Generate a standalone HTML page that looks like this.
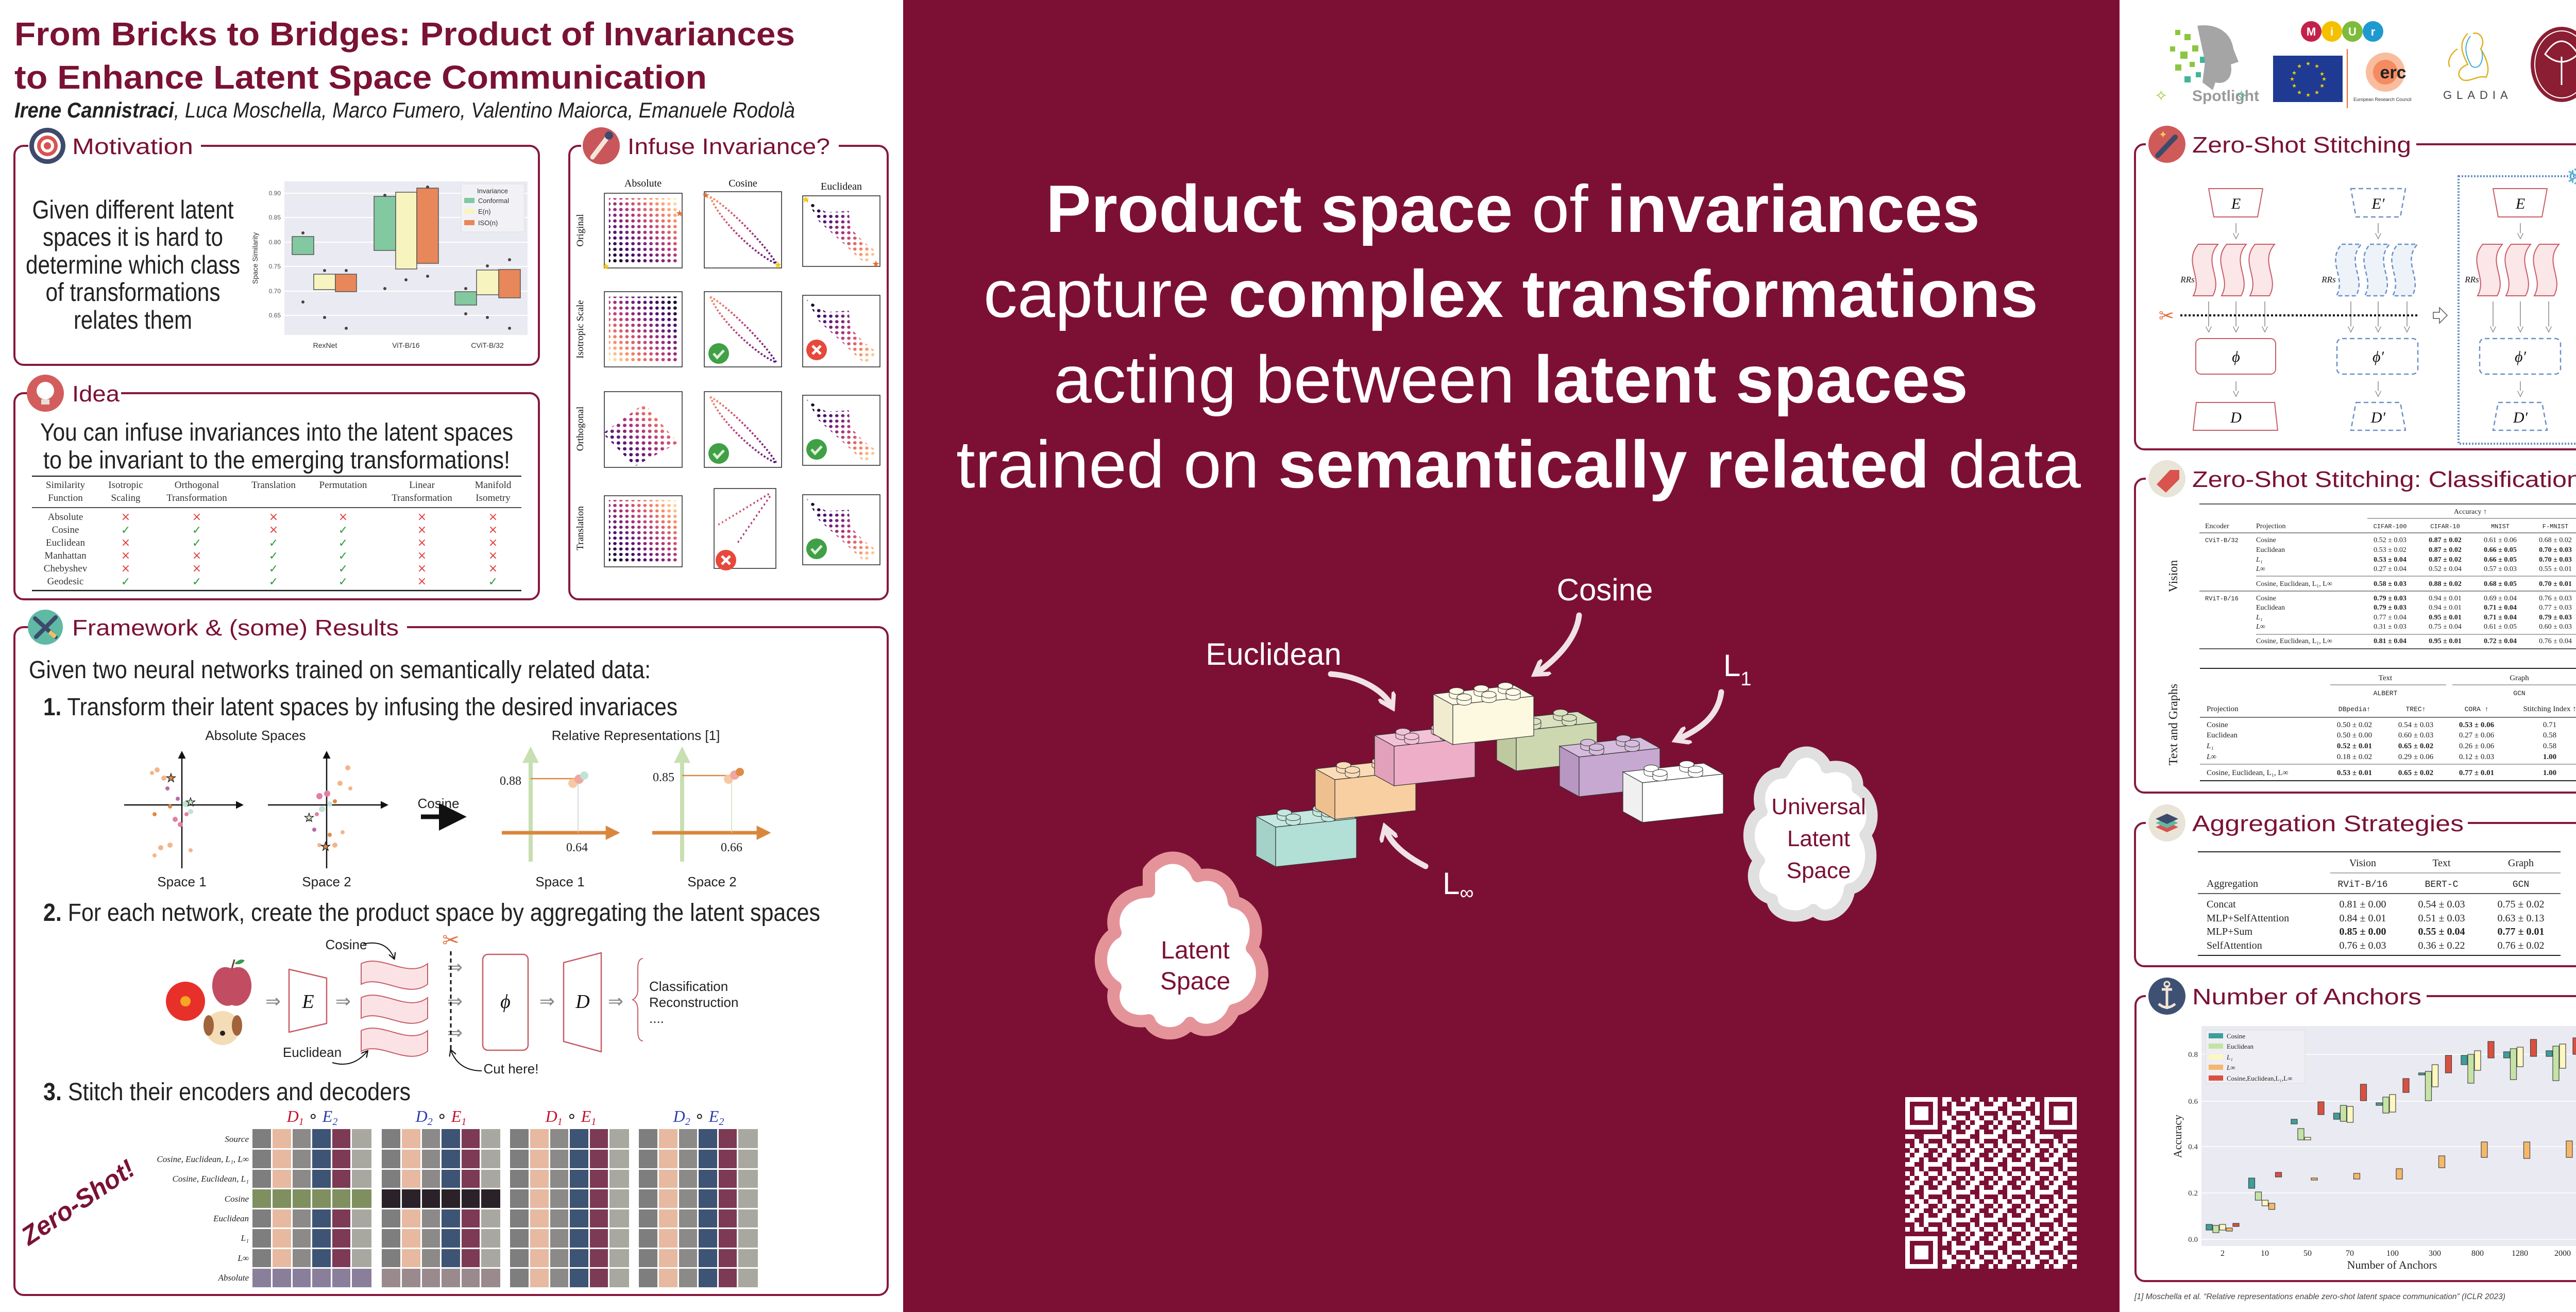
<!DOCTYPE html>
<html><head><meta charset="utf-8"><style>
html,body{margin:0;padding:0;background:#fff;}
body{width:5120px;height:2546px;overflow:hidden;}
svg{display:block;}
.s{font-family:"Liberation Serif",serif;}
.m{font-family:"Liberation Mono",monospace;}
</style></head><body>
<svg width="5120" height="2546" viewBox="0 0 5120 2546" xmlns="http://www.w3.org/2000/svg" font-family="Liberation Sans, sans-serif">
<defs>
<linearGradient id="mg" x1="0" y1="1" x2="1" y2="0"><stop offset="0" stop-color="#000004"/><stop offset=".28" stop-color="#51127c"/><stop offset=".55" stop-color="#b73779"/><stop offset=".8" stop-color="#fc8961"/><stop offset="1" stop-color="#fcfdbf"/></linearGradient>
<linearGradient id="mgR" x1="1" y1="0" x2="0" y2="1"><stop offset="0" stop-color="#000004"/><stop offset=".28" stop-color="#51127c"/><stop offset=".55" stop-color="#b73779"/><stop offset=".8" stop-color="#fc8961"/><stop offset="1" stop-color="#fcfdbf"/></linearGradient>
<linearGradient id="mgE" x1="0" y1="0" x2="1" y2="1"><stop offset="0" stop-color="#000004"/><stop offset=".3" stop-color="#51127c"/><stop offset=".55" stop-color="#b73779"/><stop offset=".8" stop-color="#fc8961"/><stop offset="1" stop-color="#fcfdbf"/></linearGradient>
<linearGradient id="mgC" x1="1" y1="1" x2="0" y2="0"><stop offset="0" stop-color="#51127c"/><stop offset=".5" stop-color="#b73779"/><stop offset="1" stop-color="#fc8961"/></linearGradient>
<pattern id="dots" width="8" height="8" patternUnits="userSpaceOnUse"><circle cx="4" cy="4" r="2.3" fill="#fff"/></pattern>
<mask id="dm" maskUnits="userSpaceOnUse" x="0" y="0" width="100" height="100"><rect width="100" height="100" fill="url(#dots)"/></mask>
<symbol id="absO" viewBox="0 0 100 100" preserveAspectRatio="none"><rect x="4" y="4" width="92" height="92" fill="url(#mg)" mask="url(#dm)"/></symbol>
<symbol id="absI" viewBox="0 0 100 100" preserveAspectRatio="none"><rect x="4" y="4" width="92" height="92" fill="url(#mgR)" mask="url(#dm)"/></symbol>
<symbol id="ortA" viewBox="0 0 100 100" preserveAspectRatio="none"><polygon points="53,14 96,68 41,100 0,55" fill="url(#mg)" mask="url(#dm)"/></symbol>
<symbol id="cosP" viewBox="0 0 100 100" preserveAspectRatio="none"><path d="M6,5 C30,18 80,70 95,96 C70,86 20,40 6,5" fill="none" stroke="url(#mgC)" stroke-width="2.6" stroke-dasharray="2.5 2.5"/></symbol>
<symbol id="eucP" viewBox="0 0 100 100" preserveAspectRatio="none"><polygon points="4,4 30,22 60,20 62,45 80,66 97,80 88,92 80,96 55,70 20,35" fill="url(#mgE)" mask="url(#dm)"/></symbol>
<symbol id="trC" viewBox="0 0 100 100" preserveAspectRatio="none"><path d="M90,5 L5,45 M92,8 L38,68 M3,97 L4,96" fill="none" stroke="url(#mgC)" stroke-width="2.6" stroke-dasharray="2.5 4"/></symbol>
<pattern id="qr" width="54" height="54" patternUnits="userSpaceOnUse" x="3698" y="2129">
<rect x="0" y="0" width="9" height="9" fill="#fff"/><rect x="18" y="0" width="18" height="9" fill="#fff"/>
<rect x="9" y="9" width="18" height="9" fill="#fff"/><rect x="36" y="9" width="9" height="9" fill="#fff"/>
<rect x="0" y="18" width="18" height="9" fill="#fff"/><rect x="36" y="18" width="18" height="9" fill="#fff"/>
<rect x="18" y="27" width="9" height="9" fill="#fff"/><rect x="36" y="27" width="9" height="9" fill="#fff"/>
<rect x="0" y="36" width="9" height="9" fill="#fff"/><rect x="18" y="36" width="18" height="9" fill="#fff"/><rect x="45" y="36" width="9" height="9" fill="#fff"/>
<rect x="9" y="45" width="9" height="9" fill="#fff"/><rect x="27" y="45" width="18" height="9" fill="#fff"/>
</pattern>
<g id="stud"><path d="M-14,0 v-9 a14,6.5 0 0 1 28,0 v9 a14,6.5 0 0 1 -28,0z" stroke="#333" stroke-width="1"/><ellipse cy="-9" rx="14" ry="6.5" stroke="#333" stroke-width="1"/></g>
<polygon id="bF" points="0,0 157,-17 157,60 0,77" stroke="#333" stroke-width="1.2"/>
<polygon id="bL" points="-38,-21 0,0 0,77 -38,56" stroke="#333" stroke-width="1.2"/>
<polygon id="bT" points="-38,-21 119,-38 157,-17 0,0" stroke="#333" stroke-width="1.2"/>
<g id="grid">
<rect x="0" y="0" width="38.5" height="307" fill="#7e7e7e"/><rect x="38.5" y="0" width="38.5" height="307" fill="#e6b9a0"/><rect x="77" y="0" width="38.5" height="307" fill="#8c8a88"/><rect x="115.5" y="0" width="38.5" height="307" fill="#3e5475"/><rect x="154" y="0" width="38.5" height="307" fill="#7d3a55"/><rect x="192.5" y="0" width="38.5" height="307" fill="#a8a8a0"/>
</g>
<marker id="ah" viewBox="0 0 10 10" refX="8" refY="5" markerWidth="6" markerHeight="6" orient="auto"><path d="M0,0 L10,5 L0,10z" fill="#111"/></marker>
<marker id="ahg" viewBox="0 0 10 10" refX="8" refY="5" markerWidth="4" markerHeight="4" orient="auto"><path d="M0,0 L10,5 L0,10z" fill="#c8dfb2"/></marker>
<marker id="aho" viewBox="0 0 10 10" refX="8" refY="5" markerWidth="4" markerHeight="4" orient="auto"><path d="M0,0 L10,5 L0,10z" fill="#d9873d"/></marker>
<marker id="ahw" viewBox="0 0 10 10" refX="6" refY="5" markerWidth="3.2" markerHeight="3.2" orient="auto"><path d="M0,0 L8,5 L0,10" fill="none" stroke="#f1e2e6" stroke-width="2.4"/></marker>
<marker id="ahk" viewBox="0 0 10 10" refX="8" refY="5" markerWidth="7" markerHeight="7" orient="auto"><path d="M0,0 L9,5 L0,10" fill="none" stroke="#111" stroke-width="1.5"/></marker>
<marker id="ahh" viewBox="0 0 10 10" refX="8" refY="5" markerWidth="9" markerHeight="9" orient="auto"><path d="M1,1 L9,5 L1,9" fill="#fff" stroke="#888" stroke-width="1"/></marker>
</defs>

<!-- ========== CENTER PANEL ========== -->
<rect x="1753" y="0" width="2361" height="2546" fill="#7c1034"/>
<g fill="#fff" font-size="130">
<text x="2030" y="450" textLength="1813" lengthAdjust="spacingAndGlyphs"><tspan font-weight="700">Product space</tspan> of <tspan font-weight="700">invariances</tspan></text>
<text x="1909" y="615" textLength="2047" lengthAdjust="spacingAndGlyphs">capture <tspan font-weight="700">complex transformations</tspan></text>
<text x="2045" y="781" textLength="1775" lengthAdjust="spacingAndGlyphs">acting between <tspan font-weight="700">latent spaces</tspan></text>
<text x="1856" y="946" textLength="2183" lengthAdjust="spacingAndGlyphs">trained on <tspan font-weight="700">semantically related</tspan> data</text>
</g>
<!-- bricks -->
<g>
<g transform="translate(2476,1605)"><use href="#bT" fill="#c4e8df"/><use href="#bL" fill="#a4d2c8"/><use href="#bF" fill="#b2dfd6"/><g fill="#c4e8df"><use href="#stud" x="17" y="-19"/><use href="#stud" x="86" y="-27"/><use href="#stud" x="34" y="-10"/><use href="#stud" x="103" y="-17"/></g></g>
<g transform="translate(2591,1513)"><use href="#bT" fill="#fbdcb8"/><use href="#bL" fill="#eec08f"/><use href="#bF" fill="#f8cfa0"/><g fill="#fbdcb8"><use href="#stud" x="17" y="-19"/><use href="#stud" x="86" y="-27"/><use href="#stud" x="34" y="-10"/><use href="#stud" x="103" y="-17"/></g></g>
<g transform="translate(2706,1448)"><use href="#bT" fill="#f3c2d6"/><use href="#bL" fill="#e3a0bb"/><use href="#bF" fill="#eeaec8"/><g fill="#f3c2d6"><use href="#stud" x="17" y="-19"/><use href="#stud" x="86" y="-27"/><use href="#stud" x="34" y="-10"/><use href="#stud" x="103" y="-17"/></g></g>
<g transform="translate(2943,1419)"><use href="#bT" fill="#d9e1c0"/><use href="#bL" fill="#bec9a0"/><use href="#bF" fill="#cdd7b0"/><g fill="#d9e1c0"><use href="#stud" x="17" y="-19"/><use href="#stud" x="86" y="-27"/><use href="#stud" x="34" y="-10"/><use href="#stud" x="103" y="-17"/></g></g>
<g transform="translate(3065,1469)"><use href="#bT" fill="#d5bcdc"/><use href="#bL" fill="#b897c2"/><use href="#bF" fill="#c7a8d0"/><g fill="#d5bcdc"><use href="#stud" x="17" y="-19"/><use href="#stud" x="86" y="-27"/><use href="#stud" x="34" y="-10"/><use href="#stud" x="103" y="-17"/></g></g>
<g transform="translate(3188,1519)"><use href="#bT" fill="#fff"/><use href="#bL" fill="#f0f0f0"/><use href="#bF" fill="#fff"/><g fill="#fff"><use href="#stud" x="17" y="-19"/><use href="#stud" x="86" y="-27"/><use href="#stud" x="34" y="-10"/><use href="#stud" x="103" y="-17"/></g></g>
<g transform="translate(2820,1368)"><use href="#bT" fill="#fffbe8"/><use href="#bL" fill="#f1ecd0"/><use href="#bF" fill="#fdf9e0"/><g fill="#fffbe8"><use href="#stud" x="7" y="-18"/><use href="#stud" x="55" y="-23"/><use href="#stud" x="102" y="-28"/><use href="#stud" x="22" y="-6"/><use href="#stud" x="70" y="-11"/><use href="#stud" x="117" y="-16"/></g></g>
</g>
<g fill="none" stroke="#f1e2e6" stroke-width="11" stroke-linecap="round" marker-end="url(#ahw)">
<path d="M2583,1308 C2640,1312 2685,1340 2700,1368"/>
<path d="M3065,1194 C3060,1240 3020,1280 2984,1305"/>
<path d="M3341,1343 C3335,1390 3300,1415 3258,1434"/>
<path d="M2767,1681 C2735,1665 2700,1640 2690,1610"/>
</g>
<g fill="#fff" font-size="60">
<text x="3115" y="1165" text-anchor="middle">Cosine</text>
<text x="2472" y="1290" text-anchor="middle">Euclidean</text>
<text x="3345" y="1312">L<tspan font-size="38" dy="18">1</tspan></text>
<text x="2800" y="1735">L<tspan font-size="38" dy="10">∞</tspan></text>
</g>
<!-- clouds -->
<g>
<path d="M2230,1690 C2260,1650 2310,1660 2325,1700 C2360,1690 2390,1710 2395,1750 C2440,1760 2445,1810 2430,1840 C2470,1880 2445,1950 2395,1960 C2380,2000 2330,2010 2310,1985 C2290,2015 2240,2010 2230,1980 C2180,1990 2150,1950 2165,1915 C2125,1890 2130,1830 2165,1810 C2150,1770 2180,1730 2230,1730z" fill="#fff" stroke="#e49499" stroke-width="24" stroke-linejoin="round"/>
<text x="2320" y="1860" text-anchor="middle" fill="#7c1034" font-size="48">Latent</text>
<text x="2320" y="1920" text-anchor="middle" fill="#7c1034" font-size="48">Space</text>
<path d="M3480,1470 C3510,1445 3540,1470 3545,1490 C3580,1480 3610,1500 3605,1530 C3640,1550 3640,1600 3620,1620 C3645,1660 3625,1720 3590,1725 C3585,1770 3540,1790 3520,1765 C3490,1790 3440,1775 3440,1745 C3400,1735 3395,1690 3415,1670 C3385,1640 3390,1590 3420,1575 C3405,1540 3425,1500 3460,1500z" fill="#fff" stroke="#e0e0e0" stroke-width="22" stroke-linejoin="round"/>
<text x="3530" y="1580" text-anchor="middle" fill="#7c1034" font-size="44">Universal</text>
<text x="3530" y="1642" text-anchor="middle" fill="#7c1034" font-size="44">Latent</text>
<text x="3530" y="1704" text-anchor="middle" fill="#7c1034" font-size="44">Space</text>
</g>
<!-- QR -->
<rect x="3698" y="2129" width="333" height="333" fill="url(#qr)"/>
<g fill="#7c1034"><rect x="3698" y="2129" width="72" height="72"/><rect x="3959" y="2129" width="72" height="72"/><rect x="3698" y="2390" width="72" height="72"/></g>
<g fill="#fff"><rect x="3698" y="2129" width="63" height="63"/><rect x="3968" y="2129" width="63" height="63"/><rect x="3698" y="2399" width="63" height="63"/></g>
<g fill="#7c1034"><rect x="3707" y="2138" width="45" height="45"/><rect x="3977" y="2138" width="45" height="45"/><rect x="3707" y="2408" width="45" height="45"/></g>
<g fill="#fff"><rect x="3716" y="2147" width="27" height="27"/><rect x="3986" y="2147" width="27" height="27"/><rect x="3716" y="2417" width="27" height="27"/></g>

<!-- ========== LEFT COLUMN ========== -->
<g fill="#7a1233" font-weight="700" font-size="64">
<text x="28" y="88" textLength="1515" lengthAdjust="spacingAndGlyphs">From Bricks to Bridges: Product of Invariances</text>
<text x="28" y="172" textLength="1344" lengthAdjust="spacingAndGlyphs">to Enhance Latent Space Communication</text>
</g>
<text x="28" y="228" font-size="42" font-style="italic" fill="#222" textLength="1515" lengthAdjust="spacingAndGlyphs"><tspan font-weight="700">Irene Cannistraci</tspan>, Luca Moschella, Marco Fumero, Valentino Maiorca, Emanuele Rodolà</text>

<!-- box frames -->
<g fill="none" stroke="#86193d" stroke-width="4">
<rect x="28" y="283" width="1018" height="425" rx="18"/>
<rect x="1105" y="283" width="618" height="880" rx="18"/>
<rect x="28" y="763" width="1018" height="400" rx="18"/>
<rect x="28" y="1217" width="1695" height="1296" rx="18"/>
<rect x="4144" y="280" width="947" height="592" rx="18"/>
<rect x="4144" y="929" width="947" height="609" rx="18"/>
<rect x="4144" y="1597" width="947" height="278" rx="18"/>
<rect x="4145" y="1933" width="946" height="553" rx="18"/>
</g>
<!-- header backgrounds -->
<g fill="#fff">
<rect x="55" y="270" width="335" height="30"/>
<rect x="1128" y="270" width="500" height="30"/>
<rect x="55" y="750" width="180" height="30"/>
<rect x="55" y="1204" width="735" height="30"/>
<rect x="4165" y="267" width="525" height="30"/>
<rect x="4165" y="916" width="855" height="30"/>
<rect x="4165" y="1584" width="625" height="30"/>
<rect x="4165" y="1920" width="545" height="30"/>
</g>
<!-- icons -->
<g>
<circle cx="92" cy="283" r="35" fill="#3d4a6b"/><circle cx="92" cy="283" r="26" fill="#fff"/><circle cx="92" cy="283" r="20" fill="#d9534f"/><circle cx="92" cy="283" r="13" fill="#fff"/><circle cx="92" cy="283" r="7" fill="#d9534f"/>
<circle cx="1167" cy="283" r="36" fill="#c9565a"/><path d="M1150,305 L1178,268" stroke="#f2e6d8" stroke-width="9" stroke-linecap="round"/><circle cx="1182" cy="263" r="8" fill="#3d4a6b"/>
<circle cx="88" cy="763" r="36" fill="#d35d5d"/><circle cx="88" cy="758" r="17" fill="#fff"/><rect x="80" y="775" width="16" height="10" fill="#e8e0d8"/>
<circle cx="88" cy="1217" r="34" fill="#5fb9a5"/><path d="M68,1200 L108,1236 M108,1198 L70,1236" stroke="#3d4a6b" stroke-width="8" stroke-linecap="round"/><path d="M96,1226 L108,1236" stroke="#f0c060" stroke-width="8"/>
<circle cx="4206" cy="280" r="36" fill="#cf5a5a"/><path d="M4188,302 L4222,266" stroke="#3d4a6b" stroke-width="10" stroke-linecap="round"/><text x="4190" y="268" fill="#f6d050" font-size="20">✦</text>
<circle cx="4206" cy="929" r="36" fill="#e8e5d8"/><path d="M4186,940 L4212,912 L4230,912 L4230,930 L4204,956z" fill="#d9534f"/>
<circle cx="4206" cy="1597" r="36" fill="#e8e5d8"/><path d="M4184,1605 L4206,1615 L4228,1605 L4206,1595z" fill="#d9534f"/><path d="M4184,1597 L4206,1607 L4228,1597 L4206,1587z" fill="#5fb9a5"/><path d="M4184,1589 L4206,1599 L4228,1589 L4206,1579z" fill="#3d4a6b"/>
<circle cx="4206" cy="1933" r="36" fill="#3f5173"/><path d="M4206,1912 V1958 M4190,1948 Q4206,1962 4222,1948 M4196,1920 H4216" stroke="#f2e6d8" stroke-width="5" fill="none"/><circle cx="4206" cy="1910" r="5" fill="none" stroke="#f2e6d8" stroke-width="3"/>
</g>
<!-- header titles -->
<g fill="#7a1233" font-size="44">
<text x="140" y="299" textLength="235" lengthAdjust="spacingAndGlyphs">Motivation</text>
<text x="1218" y="299" textLength="393" lengthAdjust="spacingAndGlyphs">Infuse Invariance?</text>
<text x="140" y="779" textLength="92" lengthAdjust="spacingAndGlyphs">Idea</text>
<text x="140" y="1233" textLength="634" lengthAdjust="spacingAndGlyphs">Framework &amp; (some) Results</text>
</g>
<g fill="#7a1233" font-size="44">
<text x="4255" y="296" textLength="425" lengthAdjust="spacingAndGlyphs">Zero-Shot Stitching</text>
<text x="4255" y="945" textLength="755" lengthAdjust="spacingAndGlyphs">Zero-Shot Stitching: Classification</text>
<text x="4255" y="1613" textLength="527" lengthAdjust="spacingAndGlyphs">Aggregation Strategies</text>
<text x="4255" y="1949" textLength="445" lengthAdjust="spacingAndGlyphs">Number of Anchors</text>
</g>

<!-- Motivation -->
<g font-size="50" fill="#222" text-anchor="middle">
<text x="258" y="424" textLength="391" lengthAdjust="spacingAndGlyphs">Given different latent</text>
<text x="258" y="477" textLength="350" lengthAdjust="spacingAndGlyphs">spaces it is hard to</text>
<text x="258" y="531" textLength="416" lengthAdjust="spacingAndGlyphs">determine which class</text>
<text x="258" y="584" textLength="339" lengthAdjust="spacingAndGlyphs">of transformations</text>
<text x="258" y="638" textLength="230" lengthAdjust="spacingAndGlyphs">relates them</text>
</g>
<g>
<rect x="552" y="352" width="472" height="298" fill="#eaeaf2"/>
<g stroke="#fff" stroke-width="2"><line x1="552" y1="375" x2="1024" y2="375"/><line x1="552" y1="422" x2="1024" y2="422"/><line x1="552" y1="470" x2="1024" y2="470"/><line x1="552" y1="517" x2="1024" y2="517"/><line x1="552" y1="565" x2="1024" y2="565"/><line x1="552" y1="612" x2="1024" y2="612"/></g>
<g stroke="#555" stroke-width="1.5">
<rect x="567" y="459" width="42" height="35" fill="#82c8a0"/><rect x="609" y="532" width="42" height="30" fill="#f8f4c0"/><rect x="651" y="532" width="41" height="34" fill="#e8875a"/>
<rect x="726" y="381" width="42" height="105" fill="#82c8a0"/><rect x="768" y="373" width="41" height="149" fill="#f8f4c0"/><rect x="809" y="365" width="42" height="146" fill="#e8875a"/>
<rect x="883" y="566" width="42" height="26" fill="#82c8a0"/><rect x="925" y="524" width="43" height="48" fill="#f8f4c0"/><rect x="968" y="523" width="42" height="55" fill="#e8875a"/>
</g>
<g fill="#444"><circle cx="588" cy="452" r="3"/><circle cx="588" cy="586" r="3"/><circle cx="630" cy="525" r="3"/><circle cx="630" cy="616" r="3"/><circle cx="672" cy="525" r="3"/><circle cx="672" cy="637" r="3"/><circle cx="747" cy="379" r="3"/><circle cx="747" cy="560" r="3"/><circle cx="788" cy="543" r="3"/><circle cx="830" cy="363" r="3"/><circle cx="830" cy="536" r="3"/><circle cx="904" cy="560" r="3"/><circle cx="904" cy="609" r="3"/><circle cx="946" cy="516" r="3"/><circle cx="946" cy="616" r="3"/><circle cx="989" cy="504" r="3"/><circle cx="989" cy="637" r="3"/></g>
<rect x="895" y="357" width="123" height="93" fill="#f2f2f6" stroke="#ddd"/>
<g font-size="13" fill="#333"><text x="956" y="375" text-anchor="middle">Invariance</text>
<rect x="901" y="384" width="20" height="10" fill="#82c8a0"/><text x="928" y="394">Conformal</text>
<rect x="901" y="405" width="20" height="10" fill="#f8f4c0"/><text x="928" y="415">E(n)</text>
<rect x="901" y="427" width="20" height="10" fill="#e8875a"/><text x="928" y="437">ISO(n)</text></g>
<g font-size="12" fill="#555" text-anchor="end"><text x="545" y="379">0.90</text><text x="545" y="426">0.85</text><text x="545" y="474">0.80</text><text x="545" y="521">0.75</text><text x="545" y="569">0.70</text><text x="545" y="616">0.65</text></g>
<text x="500" y="501" font-size="14" fill="#333" text-anchor="middle" transform="rotate(-90 500 501)">Space Similarity</text>
<g font-size="14" fill="#333" text-anchor="middle"><text x="631" y="675">RexNet</text><text x="788" y="675">ViT-B/16</text><text x="946" y="675">CViT-B/32</text></g>
</g>

<!-- Infuse Invariance -->
<g class="s" font-size="20" fill="#111" text-anchor="middle"><text x="1248" y="362">Absolute</text><text x="1442" y="362">Cosine</text><text x="1633" y="368">Euclidean</text></g>
<g class="s" font-size="19" fill="#111" text-anchor="middle">
<text transform="translate(1132 447) rotate(-90)">Original</text>
<text transform="translate(1132 639) rotate(-90)">Isotropic Scale</text>
<text transform="translate(1132 832) rotate(-90)">Orthogonal</text>
<text transform="translate(1132 1025) rotate(-90)">Translation</text>
</g>
<g fill="#fff" stroke="#222" stroke-width="1.5">
<rect x="1173" y="375" width="151" height="145"/><rect x="1367" y="372" width="150" height="148"/><rect x="1558" y="380" width="150" height="137"/>
<rect x="1173" y="566" width="151" height="146"/><rect x="1367" y="566" width="150" height="146"/><rect x="1558" y="573" width="150" height="139"/>
<rect x="1173" y="760" width="151" height="147"/><rect x="1367" y="760" width="150" height="147"/><rect x="1558" y="767" width="150" height="136"/>
<rect x="1173" y="962" width="151" height="138"/><rect x="1386" y="948" width="120" height="155"/><rect x="1558" y="960" width="150" height="136"/>
</g>
<use href="#absO" x="1176" y="379" width="146" height="138"/><use href="#cosP" x="1370" y="375" width="144" height="142"/><use href="#eucP" x="1560" y="383" width="146" height="132"/>
<use href="#absI" x="1176" y="570" width="146" height="139"/><use href="#cosP" x="1370" y="569" width="144" height="140"/><use href="#eucP" x="1560" y="576" width="146" height="134"/>
<use href="#ortA" x="1170" y="763" width="152" height="142"/><use href="#cosP" x="1370" y="763" width="144" height="141"/><use href="#eucP" x="1560" y="770" width="146" height="131"/>
<use href="#absO" x="1176" y="965" width="146" height="132"/><use href="#trC" x="1388" y="951" width="116" height="150"/><use href="#eucP" x="1560" y="963" width="146" height="131"/>
<g font-size="18"><text x="1311" y="420" fill="#e0703a">★</text><text x="1168" y="523" fill="#f6c800">★</text><text x="1362" y="385" fill="#e0703a">★</text><text x="1502" y="520" fill="#f6c800">★</text><text x="1556" y="393" fill="#f6c800">★</text><text x="1692" y="518" fill="#e0703a">★</text></g>
<g><circle cx="1395" cy="686" r="20" fill="#3fa045"/><path d="M1385,686 l7,8 l13,-14" stroke="#dfeedd" stroke-width="5" fill="none"/>
<circle cx="1585" cy="679" r="20" fill="#e8473c"/><path d="M1577,671 l16,16 M1593,671 l-16,16" stroke="#fff" stroke-width="5"/>
<circle cx="1395" cy="880" r="20" fill="#3fa045"/><path d="M1385,880 l7,8 l13,-14" stroke="#dfeedd" stroke-width="5" fill="none"/>
<circle cx="1585" cy="872" r="20" fill="#3fa045"/><path d="M1575,872 l7,8 l13,-14" stroke="#dfeedd" stroke-width="5" fill="none"/>
<circle cx="1409" cy="1087" r="20" fill="#e8473c"/><path d="M1401,1079 l16,16 M1417,1079 l-16,16" stroke="#fff" stroke-width="5"/>
<circle cx="1585" cy="1065" r="20" fill="#3fa045"/><path d="M1575,1065 l7,8 l13,-14" stroke="#dfeedd" stroke-width="5" fill="none"/></g>

<!-- Idea -->
<g font-size="48" fill="#222" text-anchor="middle">
<text x="537" y="855" textLength="918" lengthAdjust="spacingAndGlyphs">You can infuse invariances into the latent spaces</text>
<text x="537" y="909" textLength="906" lengthAdjust="spacingAndGlyphs">to be invariant to the emerging transformations!</text>
</g>
<g stroke="#111"><line x1="62" y1="924" x2="1012" y2="924" stroke-width="2"/><line x1="62" y1="985" x2="1012" y2="985" stroke-width="1.5"/><line x1="62" y1="1146" x2="1012" y2="1146" stroke-width="2.5"/></g>
<g class="s" font-size="19" fill="#333" text-anchor="middle">
<text x="127" y="947">Similarity</text><text x="127" y="972">Function</text>
<text x="244" y="947">Isotropic</text><text x="244" y="972">Scaling</text>
<text x="382" y="947">Orthogonal</text><text x="382" y="972">Transformation</text>
<text x="531" y="947">Translation</text><text x="666" y="947">Permutation</text>
<text x="819" y="947">Linear</text><text x="819" y="972">Transformation</text>
<text x="957" y="947">Manifold</text><text x="957" y="972">Isometry</text>
<text x="127" y="1009">Absolute</text><text x="127" y="1034">Cosine</text><text x="127" y="1059">Euclidean</text><text x="127" y="1084">Manhattan</text><text x="127" y="1109">Chebyshev</text><text x="127" y="1134">Geodesic</text>
</g>
<g font-size="22" text-anchor="middle" font-family="DejaVu Sans, sans-serif">
<g fill="#e23b3b"><text x="244" y="1010">×</text><text x="382" y="1010">×</text><text x="531" y="1010">×</text><text x="666" y="1010">×</text><text x="819" y="1010">×</text><text x="957" y="1010">×</text>
<text x="531" y="1035">×</text><text x="819" y="1035">×</text><text x="957" y="1035">×</text>
<text x="244" y="1060">×</text><text x="819" y="1060">×</text><text x="957" y="1060">×</text>
<text x="244" y="1085">×</text><text x="382" y="1085">×</text><text x="819" y="1085">×</text><text x="957" y="1085">×</text>
<text x="244" y="1110">×</text><text x="382" y="1110">×</text><text x="819" y="1110">×</text><text x="957" y="1110">×</text>
<text x="819" y="1135">×</text></g>
<g fill="#2e9a3a"><text x="244" y="1036">✓</text><text x="382" y="1036">✓</text><text x="666" y="1036">✓</text>
<text x="382" y="1061">✓</text><text x="531" y="1061">✓</text><text x="666" y="1061">✓</text>
<text x="531" y="1086">✓</text><text x="666" y="1086">✓</text>
<text x="531" y="1111">✓</text><text x="666" y="1111">✓</text>
<text x="244" y="1136">✓</text><text x="382" y="1136">✓</text><text x="531" y="1136">✓</text><text x="666" y="1136">✓</text><text x="957" y="1136">✓</text></g>
</g>

<!-- Framework -->
<g font-size="48" fill="#222">
<text x="56" y="1316" textLength="1207" lengthAdjust="spacingAndGlyphs">Given two neural networks trained on semantically related data:</text>
<text x="84" y="1388" textLength="1231" lengthAdjust="spacingAndGlyphs"><tspan font-weight="700">1.</tspan> Transform their latent spaces by infusing the desired invariaces</text>
<text x="84" y="1787" textLength="1508" lengthAdjust="spacingAndGlyphs"><tspan font-weight="700">2.</tspan> For each network, create the product space by aggregating the latent spaces</text>
<text x="84" y="2135" textLength="713" lengthAdjust="spacingAndGlyphs"><tspan font-weight="700">3.</tspan> Stitch their encoders and decoders</text>
</g>
<g font-size="26" fill="#222" text-anchor="middle">
<text x="496" y="1436">Absolute Spaces</text><text x="1234" y="1436">Relative Representations [1]</text>
<text x="353" y="1720">Space 1</text><text x="634" y="1720">Space 2</text><text x="1087" y="1720">Space 1</text><text x="1382" y="1720">Space 2</text>
<text x="851" y="1568">Cosine</text>
</g>
<g stroke="#111" stroke-width="2.5" marker-end="url(#ah)">
<line x1="353" y1="1685" x2="353" y2="1460"/><line x1="241" y1="1562" x2="470" y2="1562"/>
<line x1="634" y1="1685" x2="634" y2="1460"/><line x1="520" y1="1562" x2="751" y2="1562"/>
</g>
<line x1="817" y1="1585" x2="895" y2="1585" stroke="#111" stroke-width="9" marker-end="url(#ah)"/>
<g>
<g fill="#f3b48a"><circle cx="305" cy="1494" r="5"/><circle cx="318" cy="1510" r="5"/><circle cx="295" cy="1500" r="4"/><circle cx="312" cy="1645" r="5"/><circle cx="330" cy="1640" r="5"/><circle cx="300" cy="1660" r="4"/><circle cx="370" cy="1650" r="4"/><circle cx="675" cy="1490" r="5"/><circle cx="660" cy="1520" r="5"/><circle cx="680" cy="1530" r="4"/><circle cx="650" cy="1640" r="5"/><circle cx="620" cy="1640" r="4"/><circle cx="665" cy="1615" r="4"/></g>
<g fill="#e37fa2"><circle cx="340" cy="1590" r="5"/><circle cx="350" cy="1600" r="5"/><circle cx="362" cy="1580" r="4"/><circle cx="620" cy="1545" r="6"/><circle cx="635" cy="1540" r="6"/><circle cx="615" cy="1580" r="4"/></g>
<g fill="#b56ba8"><circle cx="345" cy="1550" r="4"/><circle cx="325" cy="1530" r="4"/><circle cx="600" cy="1590" r="4"/><circle cx="610" cy="1610" r="4"/></g>
<g fill="#bfe3d4"><circle cx="360" cy="1560" r="6"/><circle cx="370" cy="1575" r="5"/><circle cx="625" cy="1570" r="6"/><circle cx="640" cy="1560" r="5"/></g>
<g fill="#e08a45"><circle cx="300" cy="1580" r="4"/><circle cx="330" cy="1565" r="4"/><circle cx="650" cy="1555" r="4"/><circle cx="640" cy="1620" r="4"/></g>
<g font-size="22" fill="none" stroke="#111" stroke-width="1.2"><text x="322" y="1517" fill="#e08a45">★</text><text x="360" y="1564" fill="#cce8c8">★</text><text x="590" y="1594" fill="#cce8c8">★</text><text x="622" y="1650" fill="#e08a45">★</text></g>
</g>
<g>
<line x1="1030" y1="1672" x2="1030" y2="1455" stroke="#c8dfb2" stroke-width="8" marker-end="url(#ahg)"/>
<line x1="974" y1="1616" x2="1198" y2="1616" stroke="#d9873d" stroke-width="7" marker-end="url(#aho)"/>
<line x1="1030" y1="1511" x2="1118" y2="1511" stroke="#d9873d" stroke-width="2.5"/><line x1="1122" y1="1515" x2="1122" y2="1616" stroke="#ccc" stroke-width="1.5"/>
<circle cx="1112" cy="1520" r="9" fill="#f7c8a2"/><circle cx="1124" cy="1512" r="9" fill="#efa7a0"/><circle cx="1134" cy="1505" r="8" fill="#bfe3d4"/>
<line x1="1324" y1="1672" x2="1324" y2="1455" stroke="#c8dfb2" stroke-width="8" marker-end="url(#ahg)"/>
<line x1="1266" y1="1616" x2="1491" y2="1616" stroke="#d9873d" stroke-width="7" marker-end="url(#aho)"/>
<line x1="1324" y1="1505" x2="1418" y2="1505" stroke="#d9873d" stroke-width="2.5"/><line x1="1420" y1="1510" x2="1420" y2="1616" stroke="#c8dfb2" stroke-width="1.5"/>
<circle cx="1414" cy="1512" r="9" fill="#f7c8a2"/><circle cx="1426" cy="1504" r="9" fill="#efa7a0"/><circle cx="1436" cy="1498" r="8" fill="#e08a45"/>
<g class="s" font-size="24" fill="#222" text-anchor="middle"><text x="991" y="1523">0.88</text><text x="1120" y="1652">0.64</text><text x="1288" y="1516">0.85</text><text x="1420" y="1652">0.66</text></g>
</g>
<!-- pipeline -->
<g>
<circle cx="360" cy="1943" r="38" fill="#e8302a"/><circle cx="360" cy="1943" r="10" fill="#f5a623"/>
<path d="M450,1880 c-30,-15 -45,25 -35,50 c8,20 25,25 35,20 c10,5 27,0 35,-20 c10,-25 -5,-65 -35,-50z" fill="#c24c62"/><path d="M450,1880 l5,-18" stroke="#6b3b2a" stroke-width="3"/><path d="M455,1870 q12,-12 20,-6 q-8,10 -20,6z" fill="#3a9a4a"/>
<circle cx="432" cy="1995" r="33" fill="#f3dcb6"/><ellipse cx="405" cy="1990" rx="10" ry="20" fill="#a0633a"/><ellipse cx="460" cy="1990" rx="10" ry="20" fill="#a0633a"/><circle cx="432" cy="2005" r="5" fill="#222"/>
</g>
<g fill="#fff" stroke="#c85c65" stroke-width="2.5" stroke-linejoin="round">
<polygon points="561,1881 634,1898 634,1986 561,2003"/>
<rect x="937" y="1852" width="88" height="186" rx="10"/>
<polygon points="1094,1868 1167,1849 1167,2041 1094,2021"/>
</g>
<g fill="#fbe3e5" stroke="#c85c65" stroke-width="2">
<path d="M701,1870 c40,-20 90,30 129,0 v40 c-40,30 -90,-20 -129,0z"/>
<path d="M701,1936 c40,-20 90,30 129,0 v40 c-40,30 -90,-20 -129,0z"/>
<path d="M701,2000 c40,-20 90,30 129,0 v40 c-40,30 -90,-20 -129,0z"/>
</g>
<g class="s" font-style="italic" font-size="38" fill="#111" text-anchor="middle"><text x="598" y="1956">E</text><text x="981" y="1956">ϕ</text><text x="1131" y="1956">D</text></g>
<g font-family="DejaVu Sans, sans-serif" font-size="36" fill="#888" text-anchor="middle">
<text x="530" y="1955">⇒</text><text x="666" y="1955">⇒</text><text x="1062" y="1955">⇒</text><text x="1195" y="1955">⇒</text>
<text x="883" y="1889">⇒</text><text x="883" y="1955">⇒</text><text x="883" y="2016">⇒</text>
</g>
<line x1="875" y1="1846" x2="875" y2="2038" stroke="#111" stroke-width="3" stroke-dasharray="8 6"/>
<text x="875" y="1838" font-size="40" fill="#e07040" text-anchor="middle" font-family="DejaVu Sans, sans-serif">✂</text>
<path d="M1248,1860 q-10,0 -10,20 v40 q0,15 -10,20 q10,5 10,20 v40 q0,20 10,20" fill="none" stroke="#c85c65" stroke-width="2"/>
<g font-size="26" fill="#222"><text x="1260" y="1923">Classification</text><text x="1260" y="1954">Reconstruction</text><text x="1260" y="1985">....</text>
<text x="672" y="1842" text-anchor="middle">Cosine</text><text x="606" y="2051" text-anchor="middle">Euclidean</text><text x="992" y="2083" text-anchor="middle">Cut here!</text></g>
<g fill="none" stroke="#111" stroke-width="2" marker-end="url(#ahk)"><path d="M705,1832 q45,-10 60,28"/><path d="M645,2062 q40,12 68,-22"/><path d="M935,2078 q-45,0 -60,-40"/></g>
<!-- part 3 grids -->
<g class="s" font-style="italic" font-size="32" text-anchor="middle">
<text x="606" y="2177"><tspan fill="#c8102e">D</tspan><tspan fill="#c8102e" font-size="20" dy="6">1</tspan><tspan dy="-6" fill="#222" font-style="normal"> ∘ </tspan><tspan fill="#2a3eb1">E</tspan><tspan fill="#2a3eb1" font-size="20" dy="6">2</tspan></text>
<text x="856" y="2177"><tspan fill="#2a3eb1">D</tspan><tspan fill="#2a3eb1" font-size="20" dy="6">2</tspan><tspan dy="-6" fill="#222" font-style="normal"> ∘ </tspan><tspan fill="#c8102e">E</tspan><tspan fill="#c8102e" font-size="20" dy="6">1</tspan></text>
<text x="1108" y="2177"><tspan fill="#c8102e">D</tspan><tspan fill="#c8102e" font-size="20" dy="6">1</tspan><tspan dy="-6" fill="#222" font-style="normal"> ∘ </tspan><tspan fill="#c8102e">E</tspan><tspan fill="#c8102e" font-size="20" dy="6">1</tspan></text>
<text x="1356" y="2177"><tspan fill="#2a3eb1">D</tspan><tspan fill="#2a3eb1" font-size="20" dy="6">2</tspan><tspan dy="-6" fill="#222" font-style="normal"> ∘ </tspan><tspan fill="#2a3eb1">E</tspan><tspan fill="#2a3eb1" font-size="20" dy="6">2</tspan></text>
</g>
<use href="#grid" x="490" y="2191"/><use href="#grid" x="741" y="2191"/><use href="#grid" x="990" y="2191"/><use href="#grid" x="1240" y="2191"/>
<rect x="490" y="2306" width="231" height="38" fill="#7f8f60"/><rect x="490" y="2460" width="231" height="38" fill="#8a7f9a"/>
<rect x="741" y="2306" width="231" height="38" fill="#2a2228"/><rect x="741" y="2460" width="231" height="38" fill="#9a8a8e"/>
<g fill="#fff">
<rect x="490" y="2228" width="981" height="3"/><rect x="490" y="2267" width="981" height="3"/><rect x="490" y="2305" width="981" height="3"/><rect x="490" y="2344" width="981" height="3"/><rect x="490" y="2382" width="981" height="3"/><rect x="490" y="2421" width="981" height="3"/><rect x="490" y="2459" width="981" height="3"/>
<rect x="721" y="2191" width="20" height="307"/><rect x="971" y="2191" width="19" height="307"/><rect x="1221" y="2191" width="19" height="307"/>
<rect x="526" y="2191" width="3" height="307"/><rect x="565" y="2191" width="3" height="307"/><rect x="603" y="2191" width="3" height="307"/><rect x="642" y="2191" width="3" height="307"/><rect x="680" y="2191" width="3" height="307"/>
<rect x="777" y="2191" width="3" height="307"/><rect x="816" y="2191" width="3" height="307"/><rect x="854" y="2191" width="3" height="307"/><rect x="893" y="2191" width="3" height="307"/><rect x="931" y="2191" width="3" height="307"/>
<rect x="1026" y="2191" width="3" height="307"/><rect x="1065" y="2191" width="3" height="307"/><rect x="1103" y="2191" width="3" height="307"/><rect x="1142" y="2191" width="3" height="307"/><rect x="1180" y="2191" width="3" height="307"/>
<rect x="1276" y="2191" width="3" height="307"/><rect x="1315" y="2191" width="3" height="307"/><rect x="1353" y="2191" width="3" height="307"/><rect x="1392" y="2191" width="3" height="307"/><rect x="1430" y="2191" width="3" height="307"/>
</g>
<g class="s" font-style="italic" font-size="17" fill="#222" text-anchor="end">
<text x="483" y="2216">Source</text><text x="483" y="2255">Cosine, Euclidean, L₁, L∞</text><text x="483" y="2293">Cosine, Euclidean, L₁</text><text x="483" y="2332">Cosine</text><text x="483" y="2370">Euclidean</text><text x="483" y="2408">L₁</text><text x="483" y="2447">L∞</text><text x="483" y="2485">Absolute</text>
</g>
<text x="152" y="2350" font-size="50" font-weight="700" font-style="italic" fill="#7a1233" text-anchor="middle" transform="rotate(-34 152 2334)">Zero-Shot!</text>

<!-- ========== RIGHT COLUMN ========== -->
<g>
<g fill="#8cc63f"><rect x="4222" y="58" width="10" height="10"/><rect x="4240" y="66" width="12" height="12"/><rect x="4212" y="90" width="10" height="10"/><rect x="4232" y="100" width="14" height="14"/><rect x="4255" y="88" width="12" height="12"/><rect x="4222" y="125" width="12" height="12"/><rect x="4250" y="120" width="10" height="10"/></g>
<g fill="#3fb59a"><rect x="4270" y="110" width="12" height="12"/><rect x="4262" y="140" width="10" height="10"/><rect x="4240" y="148" width="12" height="12"/><rect x="4282" y="135" width="10" height="10"/></g>
<path d="M4265,50 C4300,45 4330,60 4335,95 L4345,120 L4330,125 C4335,150 4320,165 4300,160 L4295,175 L4275,160 L4280,120z" fill="#a5a5a5"/>
<text x="4255" y="196" font-size="30" font-weight="700" fill="#9a9a9a">Spotlight</text><text x="4182" y="196" font-size="30" fill="#9acd32">✧</text><text x="4338" y="196" font-size="30" fill="#3fb59a">✧</text>
<circle cx="4486" cy="61" r="20" fill="#c2224a"/><circle cx="4526" cy="61" r="20" fill="#f5c000"/><circle cx="4566" cy="61" r="20" fill="#7dbb3a"/><circle cx="4606" cy="61" r="20" fill="#1e9ad0"/>
<g fill="#fff" font-size="22" font-weight="700" text-anchor="middle"><text x="4486" y="69">M</text><text x="4526" y="69">i</text><text x="4566" y="69">U</text><text x="4606" y="69">r</text></g>
<rect x="4412" y="108" width="135" height="90" fill="#1f3a93"/>
<g fill="#f5d000" font-size="11" text-anchor="middle"><text x="4480" y="127">★</text><text x="4497" y="132">★</text><text x="4507" y="147">★</text><text x="4511" y="157">★</text><text x="4507" y="170">★</text><text x="4497" y="183">★</text><text x="4480" y="188">★</text><text x="4463" y="183">★</text><text x="4453" y="170">★</text><text x="4449" y="157">★</text><text x="4453" y="145">★</text><text x="4463" y="132">★</text></g>
<line x1="4556" y1="95" x2="4556" y2="210" stroke="#e86a2a" stroke-width="2"/>
<circle cx="4630" cy="140" r="38" fill="#f4874f" opacity=".55"/><circle cx="4630" cy="140" r="24" fill="#f15a24" opacity=".5"/>
<text x="4645" y="152" font-size="34" font-weight="700" fill="#222" text-anchor="middle">erc</text>
<text x="4568" y="196" font-size="9" fill="#333">European Research Council</text>
<path d="M4790,65 c-20,20 -10,40 0,60 c-15,5 -25,20 -10,30 c15,5 30,-10 45,-5 c10,-15 0,-40 -10,-55 c10,-15 0,-35 -15,-30 M4770,95 c-15,10 -20,25 -15,35" fill="none" stroke="#e0b020" stroke-width="2.5"/>
<path d="M4795,70 c-15,20 -8,40 2,58 c15,10 25,-10 20,-30" fill="none" stroke="#3aaed8" stroke-width="2"/>
<text x="4742" y="192" font-size="22" fill="#444" letter-spacing="9">GLADIA</text>
<ellipse cx="4972" cy="125" rx="60" ry="73" fill="#8b1e33"/><ellipse cx="4972" cy="125" rx="52" ry="65" fill="none" stroke="#fff" stroke-width="2"/>
<path d="M4940,105 q32,-50 64,0 q-32,30 -64,0z M4972,110 v55" fill="none" stroke="#fff" stroke-width="3"/>
</g>
<!-- ZSS diagram -->
<g fill="#fff" stroke="#c85c65" stroke-width="2" stroke-linejoin="round">
<polygon points="4287,366 4392,366 4382,421 4297,421"/><polygon points="4839,366 4944,366 4934,421 4849,421"/>
<rect x="4262" y="657" width="155" height="69" rx="10"/>
<polygon points="4263,781 4415,781 4421,835 4257,835"/>
</g>
<g fill="#fff" stroke="#6a8fc8" stroke-width="2.5" stroke-dasharray="9 6" stroke-linejoin="round">
<polygon points="4563,366 4669,366 4659,421 4573,421"/>
<rect x="4536" y="657" width="157" height="69" rx="10"/><rect x="4813" y="657" width="157" height="69" rx="10"/>
<polygon points="4573,781 4659,781 4669,835 4563,835"/><polygon points="4849,781 4934,781 4944,835 4839,835"/>
</g>
<rect x="4772" y="342" width="238" height="519" fill="none" stroke="#6a8fc8" stroke-width="4" stroke-dasharray="3 3"/>
<text x="5003" y="362" font-size="54" fill="#5ab0d8" text-anchor="middle" font-family="DejaVu Sans, sans-serif">❄</text>
<g fill="#fbe6e8" stroke="#c85c65" stroke-width="2">
<path d="M4267,474 h38 c-30,35 10,65 -10,100 h-38 c20,-35 -20,-65 10,-100z"/><path d="M4322,474 h38 c-30,35 10,65 -10,100 h-38 c20,-35 -20,-65 10,-100z"/><path d="M4377,474 h38 c-30,35 10,65 -10,100 h-38 c20,-35 -20,-65 10,-100z"/>
<path d="M4819,474 h38 c-30,35 10,65 -10,100 h-38 c20,-35 -20,-65 10,-100z"/><path d="M4874,474 h38 c-30,35 10,65 -10,100 h-38 c20,-35 -20,-65 10,-100z"/><path d="M4929,474 h38 c-30,35 10,65 -10,100 h-38 c20,-35 -20,-65 10,-100z"/>
</g>
<g fill="#eef3fa" stroke="#6a8fc8" stroke-width="2.5" stroke-dasharray="8 5">
<path d="M4545,474 h38 c-30,35 10,65 -10,100 h-38 c20,-35 -20,-65 10,-100z"/><path d="M4600,474 h38 c-30,35 10,65 -10,100 h-38 c20,-35 -20,-65 10,-100z"/><path d="M4654,474 h38 c-30,35 10,65 -10,100 h-38 c20,-35 -20,-65 10,-100z"/>
</g>
<g class="s" font-style="italic" fill="#111" text-anchor="middle">
<g font-size="30"><text x="4340" y="405">E</text><text x="4616" y="405">E′</text><text x="4892" y="405">E</text>
<text x="4340" y="702">ϕ</text><text x="4616" y="702">ϕ′</text><text x="4892" y="702">ϕ′</text>
<text x="4340" y="820">D</text><text x="4616" y="820">D′</text><text x="4892" y="820">D′</text></g>
<g font-size="17"><text x="4246" y="548">RRs</text><text x="4520" y="548">RRs</text><text x="4798" y="548">RRs</text></g>
</g>
<g stroke="#888" stroke-width="1.5" fill="none" marker-end="url(#ahh)">
<line x1="4340" y1="433" x2="4340" y2="462"/><line x1="4616" y1="433" x2="4616" y2="462"/><line x1="4892" y1="433" x2="4892" y2="462"/>
<line x1="4287" y1="585" x2="4287" y2="643"/><line x1="4340" y1="585" x2="4340" y2="643"/><line x1="4396" y1="585" x2="4396" y2="643"/>
<line x1="4563" y1="585" x2="4563" y2="643"/><line x1="4616" y1="585" x2="4616" y2="643"/><line x1="4672" y1="585" x2="4672" y2="643"/>
<line x1="4839" y1="585" x2="4839" y2="643"/><line x1="4892" y1="585" x2="4892" y2="643"/><line x1="4947" y1="585" x2="4947" y2="643"/>
<line x1="4340" y1="740" x2="4340" y2="768"/><line x1="4616" y1="740" x2="4616" y2="768"/><line x1="4892" y1="740" x2="4892" y2="768"/>
</g>
<line x1="4232" y1="612" x2="4694" y2="612" stroke="#111" stroke-width="4" stroke-dasharray="4 4"/>
<text x="4205" y="625" font-size="36" fill="#e07040" text-anchor="middle" font-family="DejaVu Sans, sans-serif">✂</text>
<path d="M4723,606 h12 v-9 l15,15 l-15,15 v-9 h-12z" fill="#fff" stroke="#555" stroke-width="1.5"/>

<!-- Classification table -->
<g class="s" font-size="20" fill="#222" text-anchor="middle">
<text transform="translate(4226 1118) rotate(-90)" font-size="24">Vision</text>
<text transform="translate(4226 1406) rotate(-90)" font-size="24">Text and Graphs</text>
</g>
<g stroke="#222"><line x1="4269" y1="978" x2="5014" y2="978" stroke-width="1.5"/><line x1="4595" y1="1006" x2="5014" y2="1006" stroke-width=".7"/><line x1="4269" y1="1034" x2="5014" y2="1034"/><line x1="4379" y1="1118" x2="5014" y2="1118" stroke-width=".7"/><line x1="4269" y1="1147" x2="5014" y2="1147"/><line x1="4379" y1="1231" x2="5014" y2="1231" stroke-width=".7"/><line x1="4269" y1="1259" x2="5014" y2="1259" stroke-width="1.5"/></g>
<g class="s" font-size="14" fill="#222">
<text x="4795" y="997" text-anchor="middle">Accuracy ↑</text>
<text x="4280" y="1025">Encoder</text><text x="4379" y="1025">Projection</text>
<g class="m" font-size="12" text-anchor="middle"><text x="4639" y="1025">CIFAR-100</text><text x="4746" y="1025">CIFAR-10</text><text x="4853" y="1025">MNIST</text><text x="4960" y="1025">F-MNIST</text></g>
<text class="m" font-size="12" x="4280" y="1052">CViT-B/32</text><text class="m" font-size="12" x="4280" y="1165">RViT-B/16</text>
<text x="4379" y="1052">Cosine</text><text x="4379" y="1071">Euclidean</text><text x="4379" y="1090" font-style="italic">L₁</text><text x="4379" y="1108" font-style="italic">L∞</text><text x="4379" y="1137">Cosine, Euclidean, L₁, L∞</text>
<text x="4379" y="1165">Cosine</text><text x="4379" y="1183">Euclidean</text><text x="4379" y="1202" font-style="italic">L₁</text><text x="4379" y="1220" font-style="italic">L∞</text><text x="4379" y="1248">Cosine, Euclidean, L₁, L∞</text>
<g text-anchor="middle">
<text x="4639" y="1052">0.52 ± 0.03</text><text x="4746" y="1052" font-weight="700">0.87 ± 0.02</text><text x="4853" y="1052">0.61 ± 0.06</text><text x="4960" y="1052">0.68 ± 0.02</text>
<text x="4639" y="1071">0.53 ± 0.02</text><text x="4746" y="1071" font-weight="700">0.87 ± 0.02</text><text x="4853" y="1071" font-weight="700">0.66 ± 0.05</text><text x="4960" y="1071" font-weight="700">0.70 ± 0.03</text>
<text x="4639" y="1090" font-weight="700">0.53 ± 0.04</text><text x="4746" y="1090" font-weight="700">0.87 ± 0.02</text><text x="4853" y="1090" font-weight="700">0.66 ± 0.05</text><text x="4960" y="1090" font-weight="700">0.70 ± 0.03</text>
<text x="4639" y="1108">0.27 ± 0.04</text><text x="4746" y="1108">0.52 ± 0.04</text><text x="4853" y="1108">0.57 ± 0.03</text><text x="4960" y="1108">0.55 ± 0.01</text>
<text x="4639" y="1137" font-weight="700">0.58 ± 0.03</text><text x="4746" y="1137" font-weight="700">0.88 ± 0.02</text><text x="4853" y="1137" font-weight="700">0.68 ± 0.05</text><text x="4960" y="1137" font-weight="700">0.70 ± 0.01</text>
<text x="4639" y="1165" font-weight="700">0.79 ± 0.03</text><text x="4746" y="1165">0.94 ± 0.01</text><text x="4853" y="1165">0.69 ± 0.04</text><text x="4960" y="1165">0.76 ± 0.03</text>
<text x="4639" y="1183" font-weight="700">0.79 ± 0.03</text><text x="4746" y="1183">0.94 ± 0.01</text><text x="4853" y="1183" font-weight="700">0.71 ± 0.04</text><text x="4960" y="1183">0.77 ± 0.03</text>
<text x="4639" y="1202">0.77 ± 0.04</text><text x="4746" y="1202" font-weight="700">0.95 ± 0.01</text><text x="4853" y="1202" font-weight="700">0.71 ± 0.04</text><text x="4960" y="1202" font-weight="700">0.79 ± 0.03</text>
<text x="4639" y="1220">0.31 ± 0.03</text><text x="4746" y="1220">0.75 ± 0.04</text><text x="4853" y="1220">0.61 ± 0.05</text><text x="4960" y="1220">0.60 ± 0.03</text>
<text x="4639" y="1248" font-weight="700">0.81 ± 0.04</text><text x="4746" y="1248" font-weight="700">0.95 ± 0.01</text><text x="4853" y="1248" font-weight="700">0.72 ± 0.04</text><text x="4960" y="1248">0.76 ± 0.04</text>
</g></g>
<g stroke="#222"><line x1="4270" y1="1297" x2="5031" y2="1297" stroke-width="2"/><line x1="4523" y1="1329" x2="4748" y2="1329" stroke-width=".7"/><line x1="4760" y1="1329" x2="5031" y2="1329" stroke-width=".7"/><line x1="4270" y1="1392" x2="5031" y2="1392" stroke-width="1.2"/><line x1="4270" y1="1483" x2="5031" y2="1483" stroke-width=".8"/><line x1="4270" y1="1515" x2="5031" y2="1515" stroke-width="2"/></g>
<g class="s" font-size="15" fill="#222">
<g text-anchor="middle"><text x="4630" y="1320">Text</text><text x="4890" y="1320">Graph</text>
<text class="m" font-size="13" x="4630" y="1349">ALBERT</text><text class="m" font-size="13" x="4890" y="1349">GCN</text>
<text class="m" font-size="13" x="4570" y="1380">DBpedia↑</text><text class="m" font-size="13" x="4689" y="1380">TREC↑</text><text class="m" font-size="13" x="4807" y="1380">CORA ↑</text><text x="4949" y="1380">Stitching Index ↑</text>
<text x="4570" y="1411">0.50 ± 0.02</text><text x="4689" y="1411">0.54 ± 0.03</text><text x="4807" y="1411" font-weight="700">0.53 ± 0.06</text><text x="4949" y="1411">0.71</text>
<text x="4570" y="1431">0.50 ± 0.00</text><text x="4689" y="1431">0.60 ± 0.03</text><text x="4807" y="1431">0.27 ± 0.06</text><text x="4949" y="1431">0.58</text>
<text x="4570" y="1452" font-weight="700">0.52 ± 0.01</text><text x="4689" y="1452" font-weight="700">0.65 ± 0.02</text><text x="4807" y="1452">0.26 ± 0.06</text><text x="4949" y="1452">0.58</text>
<text x="4570" y="1473">0.18 ± 0.02</text><text x="4689" y="1473">0.29 ± 0.06</text><text x="4807" y="1473">0.12 ± 0.03</text><text x="4949" y="1473" font-weight="700">1.00</text>
<text x="4570" y="1504" font-weight="700">0.53 ± 0.01</text><text x="4689" y="1504" font-weight="700">0.65 ± 0.02</text><text x="4807" y="1504" font-weight="700">0.77 ± 0.01</text><text x="4949" y="1504" font-weight="700">1.00</text></g>
<text x="4283" y="1380">Projection</text><text x="4283" y="1411">Cosine</text><text x="4283" y="1431">Euclidean</text><text x="4283" y="1452" font-style="italic">L₁</text><text x="4283" y="1473" font-style="italic">L∞</text><text x="4283" y="1504">Cosine, Euclidean, L₁, L∞</text>
</g>
<!-- Aggregation table -->
<g stroke="#222"><line x1="4266" y1="1653" x2="4970" y2="1653" stroke-width="2"/><line x1="4523" y1="1694" x2="4970" y2="1694" stroke-width=".7"/><line x1="4266" y1="1734" x2="4970" y2="1734" stroke-width="1.5"/><line x1="4266" y1="1854" x2="4970" y2="1854" stroke-width="2"/></g>
<g class="s" font-size="20" fill="#222">
<g text-anchor="middle"><text x="4586" y="1681">Vision</text><text x="4739" y="1681">Text</text><text x="4893" y="1681">Graph</text>
<g class="m" font-size="18"><text x="4586" y="1721">RViT-B/16</text><text x="4739" y="1721">BERT-C</text><text x="4893" y="1721">GCN</text></g>
<text x="4586" y="1761">0.81 ± 0.00</text><text x="4739" y="1761">0.54 ± 0.03</text><text x="4893" y="1761">0.75 ± 0.02</text>
<text x="4586" y="1788">0.84 ± 0.01</text><text x="4739" y="1788">0.51 ± 0.03</text><text x="4893" y="1788">0.63 ± 0.13</text>
<text x="4586" y="1814" font-weight="700">0.85 ± 0.00</text><text x="4739" y="1814" font-weight="700">0.55 ± 0.04</text><text x="4893" y="1814" font-weight="700">0.77 ± 0.01</text>
<text x="4586" y="1841">0.76 ± 0.03</text><text x="4739" y="1841">0.36 ± 0.22</text><text x="4893" y="1841">0.76 ± 0.02</text></g>
<text x="4283" y="1721">Aggregation</text><text x="4283" y="1761">Concat</text><text x="4283" y="1788">MLP+SelfAttention</text><text x="4283" y="1814">MLP+Sum</text><text x="4283" y="1841">SelfAttention</text>
</g>
<!-- Anchors chart -->
<rect x="4273" y="1991" width="742" height="427" fill="#eaeaf2"/>
<g stroke="#fff" stroke-width="1.5"><line x1="4273" y1="2046" x2="5015" y2="2046"/><line x1="4273" y1="2137" x2="5015" y2="2137"/><line x1="4273" y1="2225" x2="5015" y2="2225"/><line x1="4273" y1="2315" x2="5015" y2="2315"/><line x1="4273" y1="2405" x2="5015" y2="2405"/></g>
<g stroke="#444" stroke-width="1.2">
<g fill="#3d9e9a"><rect x="4282" y="2376" width="12" height="11"/><rect x="4364.5" y="2286" width="12" height="20"/><rect x="4447" y="2172" width="12" height="9"/><rect x="4529.5" y="2160" width="12" height="12"/><rect x="4612" y="2140" width="12" height="5"/><rect x="4694.5" y="2082" width="12" height="4"/><rect x="4777" y="2048" width="12" height="18"/><rect x="4859.5" y="2041" width="12" height="12"/><rect x="4942" y="2039" width="12" height="11"/></g>
<g fill="#c5e3a4"><rect x="4295" y="2378" width="12" height="14"/><rect x="4377.5" y="2313" width="12" height="16"/><rect x="4460" y="2190" width="12" height="22"/><rect x="4542.5" y="2145" width="12" height="31"/><rect x="4625" y="2129" width="12" height="31"/><rect x="4707.5" y="2079" width="12" height="57"/><rect x="4790" y="2046" width="12" height="56"/><rect x="4872.5" y="2035" width="12" height="60"/><rect x="4955" y="2030" width="12" height="67"/></g>
<g fill="#fdf7c0"><rect x="4308" y="2376" width="12" height="11"/><rect x="4390.5" y="2329" width="12" height="11"/><rect x="4473" y="2207" width="12" height="5"/><rect x="4555.5" y="2147" width="12" height="31"/><rect x="4638" y="2124" width="12" height="34"/><rect x="4720.5" y="2066" width="12" height="43"/><rect x="4803" y="2039" width="12" height="38"/><rect x="4885.5" y="2032" width="12" height="38"/><rect x="4968" y="2026" width="12" height="47"/></g>
<g fill="#f5b86a"><rect x="4321" y="2383" width="12" height="6"/><rect x="4403.5" y="2335" width="12" height="12"/><rect x="4486" y="2286" width="12" height="4"/><rect x="4568.5" y="2277" width="12" height="11"/><rect x="4651" y="2268" width="12" height="20"/><rect x="4733.5" y="2243" width="12" height="23"/><rect x="4816" y="2216" width="12" height="30"/><rect x="4898.5" y="2216" width="12" height="32"/><rect x="4981" y="2214" width="12" height="32"/></g>
<g fill="#d95040"><rect x="4334" y="2374" width="12" height="6"/><rect x="4416.5" y="2275" width="12" height="9"/><rect x="4499" y="2138" width="12" height="25"/><rect x="4581.5" y="2104" width="12" height="32"/><rect x="4664" y="2093" width="12" height="27"/><rect x="4746.5" y="2048" width="12" height="34"/><rect x="4829" y="2021" width="12" height="32"/><rect x="4911.5" y="2017" width="12" height="33"/><rect x="4994" y="2014" width="12" height="32"/></g>
</g>
<rect x="4281" y="1999" width="193" height="103" fill="#eeeef4" stroke="#ddd"/>
<g class="s" font-size="13" fill="#222">
<rect x="4287" y="2005" width="28" height="10" fill="#3d9e9a"/><text x="4322" y="2015">Cosine</text>
<rect x="4287" y="2025" width="28" height="10" fill="#c5e3a4"/><text x="4322" y="2035">Euclidean</text>
<rect x="4287" y="2046" width="28" height="10" fill="#fdf7c0"/><text x="4322" y="2056" font-style="italic">L₁</text>
<rect x="4287" y="2066" width="28" height="10" fill="#f5b86a"/><text x="4322" y="2076" font-style="italic">L∞</text>
<rect x="4287" y="2087" width="28" height="10" fill="#d95040"/><text x="4322" y="2097">Cosine,Euclidean,L₁,L∞</text>
</g>
<g class="s" font-size="15" fill="#333" text-anchor="end"><text x="4266" y="2051">0.8</text><text x="4266" y="2142">0.6</text><text x="4266" y="2230">0.4</text><text x="4266" y="2320">0.2</text><text x="4266" y="2410">0.0</text></g>
<g class="s" font-size="16" fill="#222" text-anchor="middle"><text x="4314" y="2437">2</text><text x="4396" y="2437">10</text><text x="4479" y="2437">50</text><text x="4561" y="2437">70</text><text x="4644" y="2437">100</text><text x="4726" y="2437">300</text><text x="4809" y="2437">800</text><text x="4891" y="2437">1280</text><text x="4974" y="2437">2000</text>
<text x="4643" y="2462" font-size="22">Number of Anchors</text>
<text transform="translate(4234 2205) rotate(-90)" font-size="22">Accuracy</text></g>
<text x="4143" y="2521" font-size="16" font-style="italic" fill="#444" textLength="720" lengthAdjust="spacingAndGlyphs">[1] Moschella et al. “Relative representations enable zero-shot latent space communication” (ICLR 2023)</text>
</svg>
</body></html>
